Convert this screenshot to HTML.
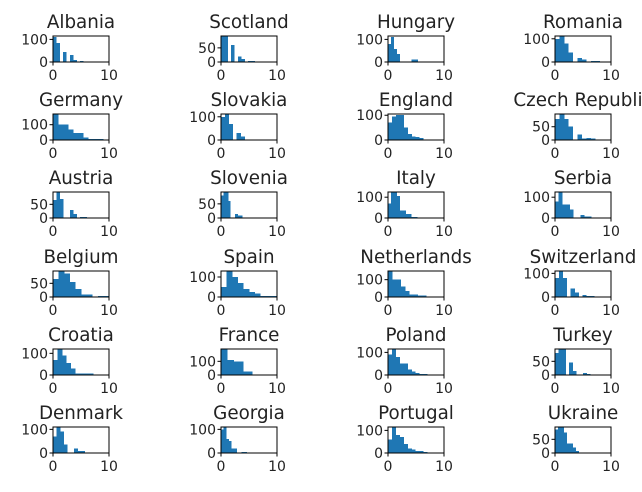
<!DOCTYPE html>
<html><head><meta charset="utf-8"><style>
body{margin:0;background:#fff;width:642px;height:487px;overflow:hidden}
svg text{font-family:"DejaVu Sans","Liberation Sans",sans-serif;fill:#222}
</style></head><body>
<svg id="fig" width="642" height="487" xmlns="http://www.w3.org/2000/svg"></svg>
<script>
const countries=["Albania","Scotland","Hungary","Romania","Germany","Slovakia","England","Czech Republic","Austria","Slovenia","Italy","Serbia","Belgium","Spain","Netherlands","Switzerland","Croatia","France","Poland","Turkey","Denmark","Georgia","Portugal","Ukraine"];
const dataMax=[6,6,5.3,8,9,7,7,8,6,4.2,5.2,6.5,10,10,7.6,7,8,5.6,7,6.3,6.3,4.6,7,5.3];
const yMax=[115,92,115,112,170,112,105,98,95,92,125,125,95,130,150,110,120,190,115,95,110,110,115,95];
const counts=[
[110,85,0,45,0,30,8,0,5,0],
[92,90,0,60,0,20,10,0,3,3],
[80,110,58,35,0,0,0,0,10,10],
[100,110,80,40,0,18,10,0,5,5],
[170,100,100,70,45,45,15,8,8,8],
[100,110,70,0,30,15,0,3,3,3],
[70,95,100,100,50,25,15,12,8,0],
[80,98,80,50,0,20,5,8,5,0],
[65,95,70,0,0,30,15,0,3,3],
[80,92,92,60,0,0,15,8,8,0],
[70,125,125,105,35,35,20,20,5,5],
[80,125,65,65,40,0,0,15,8,8],
[65,95,85,55,30,10,10,0,3,3],
[50,130,100,70,40,25,18,5,5,5],
[150,100,100,60,35,15,15,8,8,0],
[80,110,80,0,35,20,0,8,5,5],
[70,120,90,55,30,8,8,8,8,0],
[190,190,110,110,100,100,100,25,25,25],
[90,115,80,50,50,25,15,8,5,5],
[80,95,95,0,45,15,0,0,8,3],
[70,110,90,35,0,0,18,8,8,0],
[100,110,60,50,20,20,0,0,5,5],
[60,115,80,70,40,20,15,8,8,5],
[85,95,95,75,35,35,20,8,0,0]
];
const yTicks=[[0,100],[0,50],[0,100],[0,100],[0,100],[0,100],[0,100],[0,50],[0,50],[0,50],[0,100],[0,100],[0,50],[0,100],[0,100],[0,100],[0,100],[0,100],[0,100],[0,50],[0,100],[0,100],[0,100],[0,50]];
const xTicks=[0,10];

const NS="http://www.w3.org/2000/svg";
const svg=document.getElementById('fig');
const colX=[53,221,388,555], rowY=[36,114,192,271,349,427], W=56, H=26;
function mk(tag,attrs,parent){const e=document.createElementNS(NS,tag);for(const k in attrs)e.setAttribute(k,attrs[k]);parent.appendChild(e);return e;}
countries.forEach((c,i)=>{
  const L=colX[i%4], T=rowY[Math.floor(i/4)];
  const g=mk('g',{},svg);
  
  
  const sx=v=>L+v/10*W, sy=v=>T+H-v/yMax[i]*H;
  const bw=dataMax[i]/10;
  counts[i].forEach((v,k)=>{
    if(v<=0)return;
    const y=Math.max(sy(v),T);
    const r=mk('rect',{x:sx(k*bw),y:y,width:sx((k+1)*bw)-sx(k*bw)+0.3,height:T+H-y,fill:'#1f77b4','shape-rendering':'crispEdges'},g);
    
    
  });
  const f=mk('rect',{x:L,y:T,width:W,height:H,fill:'none',stroke:'#000','stroke-width':1},g);
  
  
  const t=mk('text',{x:L+W/2,y:T-8,'text-anchor':'middle','font-size':18.3},g);
  t.textContent=c;
  
  
  xTicks.forEach(v=>{
    mk('line',{x1:sx(v),x2:sx(v),y1:T+H,y2:T+H+3.5,stroke:'#000'},g);
    const tx=mk('text',{x:sx(v),y:T+H+18,'text-anchor':'middle','font-size':14},g);
    tx.textContent=v;
    
    
  });
  yTicks[i].forEach(v=>{
    mk('line',{x1:L-3.5,x2:L,y1:sy(v),y2:sy(v),stroke:'#000'},g);
    const ty=mk('text',{x:L-5,y:sy(v)+5,'text-anchor':'end','font-size':14},g);
    ty.textContent=v;
    
    
  });
});
</script>
</body></html>
